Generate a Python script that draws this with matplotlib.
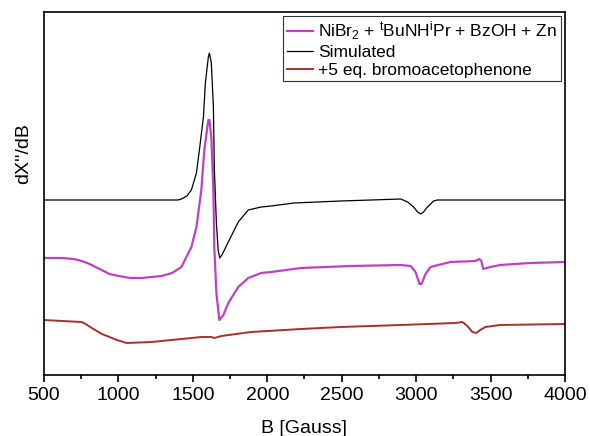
import matplotlib
matplotlib.use("Agg")
from matplotlib import pyplot as plt
from matplotlib.ticker import MultipleLocator

plt.rcParams['font.family'] = ['Liberation Sans', 'DejaVu Sans']
plt.rcParams['mathtext.fontset'] = 'custom'
plt.rcParams['mathtext.rm'] = 'Liberation Sans'
plt.rcParams['mathtext.it'] = 'Liberation Sans'

# Simulated spectrum (black)
b_sim = [500, 1400, 1423, 1460, 1490, 1524, 1544, 1571, 1584, 1604, 1611, 1624,
         1638, 1644, 1658, 1670, 1680, 1695, 1715, 1738, 1805, 1872, 1959, 2026,
         2180, 2494, 2700, 2896, 2943, 2983, 3010, 3030, 3050, 3070, 3117,
         3143, 4000]
v_sim = [175, 175, 176, 179, 185, 202, 225, 258, 292, 318, 322, 312,
         268, 208, 152, 125, 117, 120, 126, 133, 153, 165, 168, 169,
         172, 174, 175, 176, 173, 168, 163, 161, 163, 167, 174,
         175, 175]

# NiBr2 + tBuNHiPr + BzOH + Zn (magenta)
b_ni = [500, 620, 700, 754, 790, 821, 860, 888, 940, 1002, 1080, 1156, 1290,
        1360, 1423, 1490, 1524, 1557, 1577, 1604, 1611, 1624, 1638, 1644,
        1658, 1678, 1705, 1738, 1805, 1872, 1959, 2026, 2227, 2561, 2896,
        2963, 2996, 3023, 3036, 3063, 3096, 3230, 3398, 3424, 3438, 3451,
        3498, 3565, 3766, 4000]
v_ni = [117, 117, 116, 114, 112, 110, 107, 105, 101, 99, 97, 97, 99,
        102, 108, 128, 148, 185, 225, 255, 255, 238, 185, 128,
        82, 55, 60, 72, 88, 97, 102, 103, 107, 109, 110,
        109, 103, 91, 91, 101, 108, 113, 114, 116, 114, 106,
        108, 110, 112, 113]

# +5 eq. bromoacetophenone (dark red)
b_br = [500, 620, 754, 790, 821, 888, 940, 989, 1055, 1223, 1423, 1557, 1624,
        1644, 1691, 1892, 2227, 2494, 2896, 3264, 3311, 3344, 3378, 3404,
        3431, 3465, 3565, 4000]
v_br = [55, 54, 53, 50, 47, 41, 38, 35, 32, 33, 36, 38, 38,
        37, 39, 43, 46, 48, 50, 52, 53, 49, 43, 42,
        45, 48, 50, 51]

fig = plt.figure(figsize=(5.9, 4.36), dpi=100)
ax = fig.add_axes([0.0746, 0.1399, 0.883, 0.8326])

ax.plot(b_ni, v_ni, color='#c040c4', lw=1.6,
        label=r'NiBr$_2$ + $^\mathregular{t}$BuNH$^\mathregular{i}$Pr + BzOH + Zn')
ax.plot(b_sim, v_sim, color='black', lw=0.9, label='Simulated')
ax.plot(b_br, v_br, color='#a8302c', lw=1.4, label='+5 eq. bromoacetophenone')

ax.set_xlim(500, 4000)
ax.set_ylim(0, 363)
ax.xaxis.set_major_locator(MultipleLocator(500))
ax.xaxis.set_minor_locator(MultipleLocator(250))
ax.tick_params(axis='x', which='major', direction='out', length=5, width=1.2, labelsize=14)
ax.tick_params(axis='x', which='minor', direction='out', length=3, width=1.2)
ax.set_yticks([])
for s in ax.spines.values():
    s.set_linewidth(1.2)

ax.set_xlabel('B [Gauss]', fontsize=14, labelpad=12)
ax.set_ylabel("dX''/dB", fontsize=14)
ax.yaxis.set_label_coords(-0.022, 0.61)

leg = ax.legend(loc='upper right', fontsize=12.5, frameon=True, fancybox=False,
                edgecolor='black', borderaxespad=0.25, handlelength=1.5,
                handletextpad=0.3, labelspacing=0.15, borderpad=0.2)
leg.get_frame().set_linewidth(0.8)

fig.savefig('out.png', dpi=100)
